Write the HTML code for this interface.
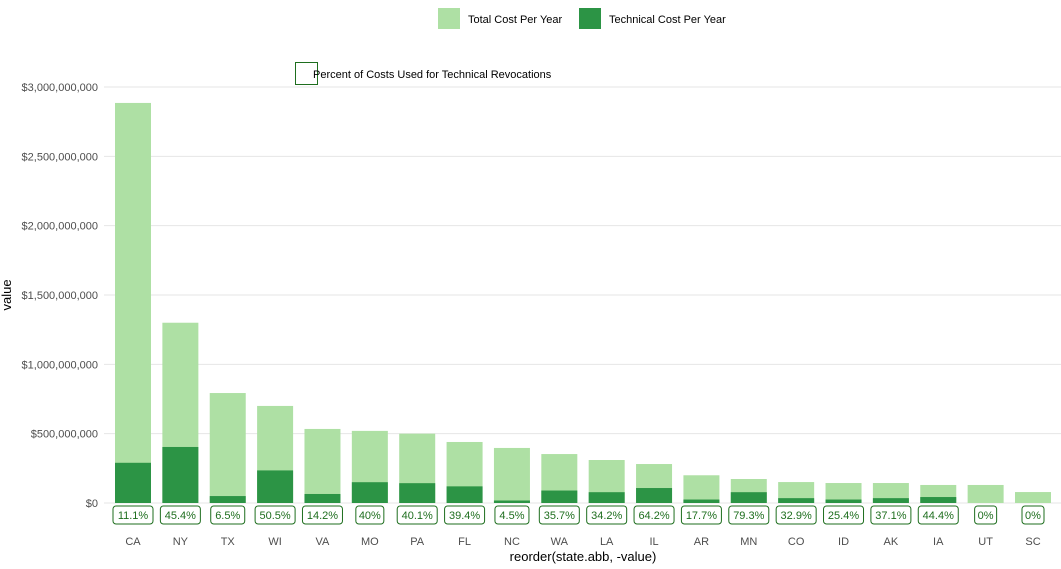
<!DOCTYPE html>
<html><head><meta charset="utf-8"><style>
body{margin:0;background:#fff;font-family:"Liberation Sans",sans-serif}
svg text{font-family:"Liberation Sans",sans-serif}
</style></head><body>
<svg id="c" width="1061" height="564" xmlns="http://www.w3.org/2000/svg"></svg>
<script>
const states=["CA","NY","TX","WI","VA","MO","PA","FL","NC","WA","LA","IL","AR","MN","CO","ID","AK","IA","UT","SC"];
const totalCost=[2.885e9,1.30e9,0.793e9,0.70e9,0.534e9,0.52e9,0.50e9,0.44e9,0.397e9,0.353e9,0.31e9,0.281e9,0.20e9,0.173e9,0.151e9,0.144e9,0.144e9,0.13e9,0.13e9,0.079e9];
const techCost=[0.29e9,0.404e9,0.05e9,0.235e9,0.065e9,0.15e9,0.143e9,0.12e9,0.018e9,0.09e9,0.078e9,0.108e9,0.025e9,0.078e9,0.035e9,0.025e9,0.035e9,0.043e9,0,0];
const pctLabels=["11.1%","45.4%","6.5%","50.5%","14.2%","40%","40.1%","39.4%","4.5%","35.7%","34.2%","64.2%","17.7%","79.3%","32.9%","25.4%","37.1%","44.4%","0%","0%"];
const yTicks=[0,5e8,1e9,1.5e9,2e9,2.5e9,3e9];
const yTickLabels=["$0","$500,000,000","$1,000,000,000","$1,500,000,000","$2,000,000,000","$2,500,000,000","$3,000,000,000"];

const svg=document.getElementById('c');
const NS='http://www.w3.org/2000/svg';
function mk(t,a,p){const e=document.createElementNS(NS,t);for(const k in a)e.setAttribute(k,a[k]);(p||svg).appendChild(e);return e;}
const y=v=>503-v/1e9*138.67;
const step=900/(states.length-1);
const x=i=>133+i*step;
const bw=36;

yTicks.forEach((t,i)=>{
  const g=mk('line',{x1:104,x2:1061,y1:y(t),y2:y(t),stroke:'#e6e6e6','stroke-width':1});
  
  
  const l=mk('text',{x:98,y:y(t)+4,'text-anchor':'end','font-size':11,fill:'#4d4d4d'});
  l.textContent=yTickLabels[i];
  
  
});

states.forEach((s,i)=>{
  const r1=mk('rect',{x:x(i)-bw/2,y:y(totalCost[i]),width:bw,height:503-y(totalCost[i]),fill:'#aee0a4'});
  
  
  const r2=mk('rect',{x:x(i)-bw/2,y:y(techCost[i]),width:bw,height:503-y(techCost[i]),fill:'#2c9445'});
  
  
  const w=pctLabels[i].length*6+10;
  const b=mk('rect',{x:x(i)-w/2,y:506,width:w,height:18,rx:3,fill:'#fff',stroke:'#1e6e1e','stroke-width':1});
  
  
  const pt=mk('text',{x:x(i),y:519,'text-anchor':'middle','font-size':11,fill:'#1e6e1e'});
  pt.textContent=pctLabels[i];
  
  
  const xt=mk('text',{x:x(i),y:545,'text-anchor':'middle','font-size':11,fill:'#4d4d4d'});
  xt.textContent=s;
  
  
});
</script>
<svg width="1061" height="564" style="position:absolute;left:0;top:0" xmlns="http://www.w3.org/2000/svg">
<text x="583" y="561" text-anchor="middle" font-size="13" fill="#000">reorder(state.abb, -value)</text>
<text transform="translate(11,295) rotate(-90)" text-anchor="middle" font-size="13" fill="#000">value</text>
<g><rect x="438" y="8" width="22" height="21" fill="#aee0a4"/><text x="468" y="23" font-size="11">Total Cost Per Year</text></g>
<g><rect x="579" y="8" width="22" height="21" fill="#2c9445"/><text x="609" y="23" font-size="11">Technical Cost Per Year</text></g>
<g><rect x="295.5" y="62.5" width="22" height="22" fill="#fff" stroke="#1e6e1e"/><text x="313" y="78" font-size="11">Percent of Costs Used for Technical Revocations</text></g>
</svg>
</body></html>
